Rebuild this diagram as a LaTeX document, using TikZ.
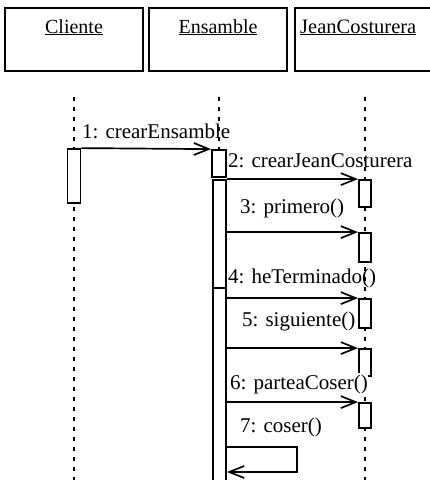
\documentclass[tikz,border=0pt]{standalone}
\usepackage{fontspec}
\setmainfont{Liberation Serif}
\usetikzlibrary{arrows.meta}
\tikzset{
  objbox/.style={draw, line width=2pt, fill=white, inner sep=0pt},
  act/.style={draw, line width=1.8pt, fill=white, inner sep=0pt, minimum width=13pt},
  life/.style={line width=1.5pt, dash pattern=on 4pt off 6pt},
  msg/.style={line width=1.7pt, -{Straight Barb[length=15pt,width=12pt,line width=1.7pt]}},
  lbl/.style={anchor=base west, inner sep=0pt, font=\fontsize{21}{25}\selectfont},
  ttl/.style={anchor=base, inner sep=0pt, font=\fontsize{20}{24}\selectfont}
}
\begin{document}
\begin{tikzpicture}[x=1pt,y=-1pt]
\useasboundingbox (0,0) rectangle (430,480);
\clip (0,0) rectangle (430,480);
% header boxes
\node[objbox, minimum width=138pt, minimum height=63pt] (bcli) at (74,39.5) {};
\node[objbox, minimum width=138pt, minimum height=63pt] (bens) at (218,39.5) {};
\node[objbox, minimum width=150pt, minimum height=63pt] (bjc) at (370,39.5) {};
\node[ttl] (tcli) at (74,33) {\underline{Cliente}};
\node[ttl] (tens) at (218,33) {\underline{Ensamble}};
\node[anchor=base west, inner sep=0pt, font=\fontsize{20.5}{24}\selectfont] (tjc) at (300,33) {\underline{JeanCosturera}};
% lifeline ends
\coordinate (lc0) at (74,97);  \coordinate (lc1) at (74,485);
\coordinate (le0) at (219,97); \coordinate (le1) at (219,150);
\coordinate (lj0) at (365,97); \coordinate (lj1) at (365,485);
\draw[life] (lc0) -- (lc1);
\draw[life] (le0) -- (le1);
\draw[life] (lj0) -- (lj1);
% activations
\node[act, minimum height=54pt] (c1) at (74,176) {};
\node[act, minimum width=14pt, minimum height=27pt] (e1) at (219,163.5) {};
\node[act, minimum height=108pt] (e2) at (219.5,234) {};
\node[act, minimum height=202pt] (e3) at (219.5,389) {};
\node[act, minimum width=12pt, minimum height=27pt] (j1) at (365,193.5) {};
\node[act, minimum width=12pt, minimum height=29pt] (j2) at (365,247.5) {};
\node[act, minimum width=12pt, minimum height=29pt] (j3) at (365,313.5) {};
\node[act, minimum width=12pt, minimum height=27pt] (j4) at (365,362.5) {};
\node[act, minimum width=12pt, minimum height=25pt] (j5) at (365,415.5) {};
% messages
\draw[msg] (c1.north east) -- (e1.north west);
\draw[msg] (e2.north east) -- (j1.north west);
\draw[msg] (e2.east |- j2.north) -- (j2.north west);
\draw[msg] (e3.east |- j3.north) -- (j3.north west);
\draw[msg] (e3.east |- j4.north) -- (j4.north west);
\draw[msg] (e3.east |- j5.north) -- (j5.north west);
\coordinate (s1) at (297,447);
\coordinate (s2) at (297,472);
\draw[msg] (e3.east |- s1) -- (s1) -- (s2) -- (e3.east |- s2);
% labels
\node[lbl] (m1) at (82,138) {1: crearEnsamble};
\node[lbl] (m2) at (228,167) {2: crearJeanCosturera};
\node[lbl] (m3) at (240,213) {3: primero()};
\node[lbl] (m4) at (228,283) {4: heTerminado()};
\node[lbl] (m5) at (242,326) {5: siguiente()};
\node[lbl, fill=white, inner ysep=1pt] (m6) at (230,389) {6: parteaCoser()};
\node[lbl] (m7) at (240,432) {7: coser()};
\end{tikzpicture}
\end{document}
